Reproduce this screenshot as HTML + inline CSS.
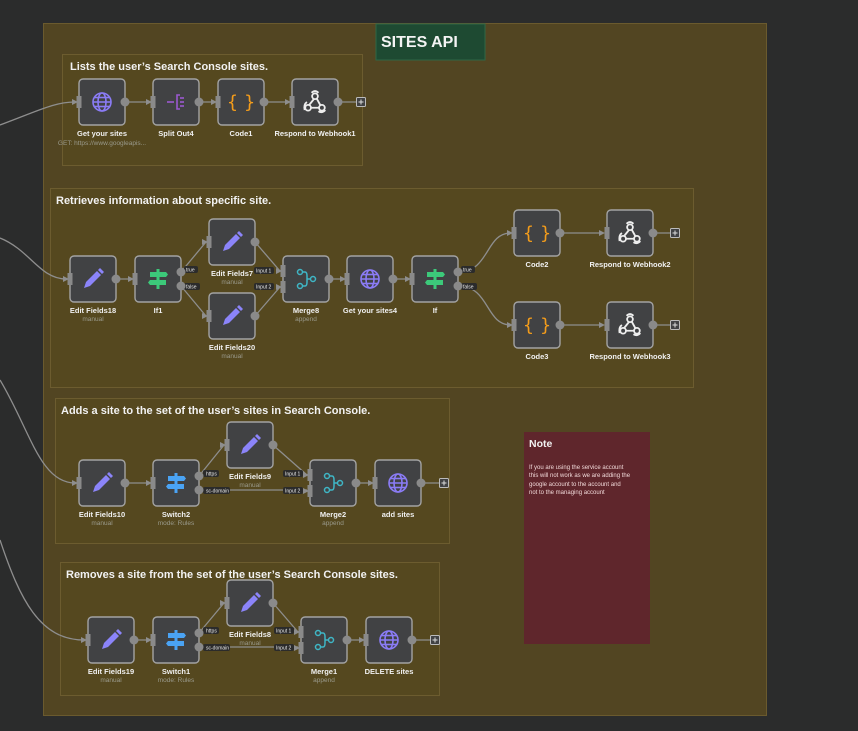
<!DOCTYPE html>
<html><head><meta charset="utf-8"><style>
html,body{margin:0;padding:0;background:#2b2c2c;width:858px;height:731px;overflow:hidden}
svg{display:block;font-family:"Liberation Sans",sans-serif}
.t{font-weight:bold;font-size:7.5px;fill:#f0f0f0;text-anchor:middle}
.s{font-size:6.5px;fill:#9a9a8c;text-anchor:middle}
.g{font-size:11px;fill:#f2f2f2;font-weight:bold}
.c{stroke:#8e8e8e;stroke-width:1.3;fill:none}
.pl{font-size:5px;fill:#e8e8e8}
</style></head><body>
<svg width="858" height="731" viewBox="0 0 858 731">
<defs>
<g id="node"><rect x="0" y="0" width="46" height="46" rx="4" fill="#414244" stroke="#a3a3a3" stroke-width="1.4"/></g>
<g id="in"><rect x="-2.5" y="-6" width="5" height="12" fill="#8a8a8a"/></g>
<g id="ah"><path d="M-6,-3 L0,0 L-6,3 Z" fill="#8e8e8e"/></g>
<g id="globe" fill="none" stroke="#8b7cf6" stroke-width="1.6"><circle r="9"/><ellipse rx="4" ry="9"/><line x1="-9" y1="0" x2="9" y2="0"/><line x1="-8" y1="-4.5" x2="8" y2="-4.5"/><line x1="-8" y1="4.5" x2="8" y2="4.5"/></g>
<g id="pencil"><path d="M-9,9 L-7,3 L4,-8 L8,-4 L-3,7 Z M5,-9 L7,-11 L11,-7 L9,-5 Z" fill="#8b84fa"/></g>
<g id="sign" fill="#3cc97a"><rect x="-1.5" y="-10" width="3" height="20"/><path d="M-8,-7 H8 L10,-4.5 L8,-2 H-8 Z"/><path d="M8,1 H-8 L-10,3.5 L-8,6 H8 Z"/></g>
<g id="signb" fill="#4aa3f5"><rect x="-1.5" y="-10" width="3" height="20"/><path d="M-8,-7 H8 L10,-4.5 L8,-2 H-8 Z"/><path d="M8,1 H-8 L-10,3.5 L-8,6 H8 Z"/></g>
<g id="merge" fill="none" stroke="#3fb6c6" stroke-width="1.5"><circle cx="-6" cy="-7" r="2.5"/><circle cx="-6" cy="7" r="2.5"/><circle cx="7" cy="0" r="2.5"/><path d="M-3.5,-7 H-1 Q1,-7 1,-3 V0 H4.5 M1,0 V3 Q1,7 -1,7 H-3.5"/></g>
<g id="split" fill="none" stroke="#9b59d0" stroke-width="1.6"><line x1="-9" y1="0" x2="-2" y2="0"/><path d="M4,-7 H1 V7 H4"/><line x1="4" y1="-4" x2="8" y2="-4"/><line x1="4" y1="0" x2="8" y2="0"/><line x1="4" y1="4" x2="8" y2="4"/></g>
<g id="hook" fill="none" stroke="#eeeeee" stroke-width="1.6" transform="scale(1.15)"><circle cx="0" cy="-5" r="2.5"/><circle cx="-6" cy="5" r="2.5"/><circle cx="6" cy="5" r="2.5"/><path d="M-1,-2.5 L-5,2.5 M-3.5,5 H3.5 M1.5,-3 L4.5,2.5 M-3,-8 Q0,-11 3,-8 M-9,7 Q-10,2 -7,0 M9,7 Q6,10 3,8"/></g>
<g id="code"><text x="0" y="6" font-size="18" fill="#f39c1b" text-anchor="middle" font-family="DejaVu Sans,sans-serif">{ }</text></g>
<g id="plus"><rect x="-4.5" y="-4.5" width="9" height="9" rx="1" fill="#414244" stroke="#bbbbbb" stroke-width="1"/><path d="M-2.5,0 H2.5 M0,-2.5 V2.5" stroke="#dddddd" stroke-width="1"/></g>
</defs>

<rect x="43.5" y="23.5" width="723" height="692" fill="#524522" stroke="#6a5a2e"/>
<rect x="376" y="24" width="109" height="36" fill="#1e4a32" stroke="#2d6645"/>
<text x="381" y="47" font-size="16" font-weight="bold" fill="#f4f4f4">SITES API</text>

<rect x="62.5" y="54.5" width="300" height="111" fill="#55481f" stroke="#6c5c2f"/>
<text x="70" y="70" class="g">Lists the user’s Search Console sites.</text>
<rect x="50.5" y="188.5" width="643" height="199" fill="#55481f" stroke="#6c5c2f"/>
<text x="56" y="204" class="g">Retrieves information about specific site.</text>
<rect x="55.5" y="398.5" width="394" height="145" fill="#55481f" stroke="#6c5c2f"/>
<text x="61" y="414" class="g">Adds a site to the set of the user’s sites in Search Console.</text>
<rect x="60.5" y="562.5" width="379" height="133" fill="#55481f" stroke="#6c5c2f"/>
<text x="66" y="578" class="g">Removes a site from the set of the user’s Search Console sites.</text>

<rect x="524" y="432" width="126" height="212" fill="#5f262c"/>
<text x="529" y="447" font-size="10.5" font-weight="bold" fill="#f2f2f2">Note</text>
<g font-size="6" fill="#f0d8d8"><text x="529" y="469">If you are using the service account</text><text x="529" y="477">this will not work as we are adding the</text><text x="529" y="486">google account to the account and</text><text x="529" y="494">not to the managing account</text></g>

<path class="c" d="M0,125 C40,110 55,102 75,102"/><use href="#ah" x="78" y="102"/>
<path class="c" d="M0,238 C30,250 40,279 66,279"/><use href="#ah" x="69" y="279"/>
<path class="c" d="M0,380 C30,430 40,483 75,483"/><use href="#ah" x="78" y="483"/>
<path class="c" d="M0,540 C20,600 40,640 84,640"/><use href="#ah" x="87" y="640"/>

<path class="c" d="M125,102 H150 M199,102 H215 M263,102 H289 M338,102 H357"/>
<use href="#ah" x="152" y="102"/><use href="#ah" x="217" y="102"/><use href="#ah" x="291" y="102"/>
<path class="c" d="M116,279 H132 M181,272 L206,242 M181,286 L206,316 M255,242 L280,271 M255,316 L280,287 M329,279 H344 M393,279 H409 M458,272 C490,272 485,233 511,233 M458,286 C490,286 485,325 511,325 M560,233 H603 M560,325 H603 M652,233 H671 M652,325 H671"/>
<use href="#ah" x="134" y="279"/><use href="#ah" x="208" y="242"/><use href="#ah" x="208" y="316"/><use href="#ah" x="282" y="271"/><use href="#ah" x="282" y="287"/><use href="#ah" x="346" y="279"/><use href="#ah" x="411" y="279"/><use href="#ah" x="513" y="233"/><use href="#ah" x="513" y="325"/><use href="#ah" x="605" y="233"/><use href="#ah" x="605" y="325"/>
<path class="c" d="M125,483 H150 M199,476 L224,445 M199,490 H307 M273,445 L307,475 M356,483 H372 M421,483 H440"/>
<use href="#ah" x="152" y="483"/><use href="#ah" x="226" y="445"/><use href="#ah" x="309" y="475"/><use href="#ah" x="309" y="491"/><use href="#ah" x="374" y="483"/>
<path class="c" d="M134,640 H150 M199,633 L224,603 M199,647 H298 M273,603 L298,632 M347,640 H363 M412,640 H431"/>
<use href="#ah" x="152" y="640"/><use href="#ah" x="226" y="603"/><use href="#ah" x="300" y="632"/><use href="#ah" x="300" y="648"/><use href="#ah" x="365" y="640"/>

<g class="pl">
<rect x="184" y="266" width="14" height="7" rx="2" fill="#2b2b2b"/><text x="186" y="271.5">true</text>
<rect x="184" y="283" width="16" height="7" rx="2" fill="#2b2b2b"/><text x="186" y="288.5">false</text>
<rect x="254" y="267" width="20" height="7" rx="2" fill="#2b2b2b"/><text x="256" y="272.5">Input 1</text>
<rect x="254" y="283" width="20" height="7" rx="2" fill="#2b2b2b"/><text x="256" y="288.5">Input 2</text>
<rect x="461" y="266" width="14" height="7" rx="2" fill="#2b2b2b"/><text x="463" y="271.5">true</text>
<rect x="461" y="283" width="16" height="7" rx="2" fill="#2b2b2b"/><text x="463" y="288.5">false</text>
<rect x="203" y="470" width="16" height="7" rx="2" fill="#2b2b2b"/><text x="206" y="475.5">https</text>
<rect x="203" y="487" width="27" height="7" rx="2" fill="#2b2b2b"/><text x="206" y="492.5">sc-domain</text>
<rect x="283" y="470" width="20" height="7" rx="2" fill="#2b2b2b"/><text x="285" y="475.5">Input 1</text>
<rect x="283" y="487" width="20" height="7" rx="2" fill="#2b2b2b"/><text x="285" y="492.5">Input 2</text>
<rect x="203" y="627" width="16" height="7" rx="2" fill="#2b2b2b"/><text x="206" y="632.5">https</text>
<rect x="203" y="644" width="27" height="7" rx="2" fill="#2b2b2b"/><text x="206" y="649.5">sc-domain</text>
<rect x="274" y="627" width="20" height="7" rx="2" fill="#2b2b2b"/><text x="276" y="632.5">Input 1</text>
<rect x="274" y="644" width="20" height="7" rx="2" fill="#2b2b2b"/><text x="276" y="649.5">Input 2</text>
</g>

<g transform="translate(79,79)"><use href="#node"/><use href="#in" y="23"/><circle cx="46" cy="23" r="4.5" fill="#8a8a8a"/><use href="#globe" x="23" y="23"/></g>
<g transform="translate(153,79)"><use href="#node"/><use href="#in" y="23"/><circle cx="46" cy="23" r="4.5" fill="#8a8a8a"/><use href="#split" x="23" y="23"/></g>
<g transform="translate(218,79)"><use href="#node"/><use href="#in" y="23"/><circle cx="46" cy="23" r="4.5" fill="#8a8a8a"/><use href="#code" x="23" y="23"/></g>
<g transform="translate(292,79)"><use href="#node"/><use href="#in" y="23"/><circle cx="46" cy="23" r="4.5" fill="#8a8a8a"/><use href="#hook" x="23" y="23"/></g>
<use href="#plus" x="361" y="102"/>
<text class="t" x="102" y="136">Get your sites</text><text class="s" x="102" y="145">GET: https://www.googleapis...</text>
<text class="t" x="176" y="136">Split Out4</text>
<text class="t" x="241" y="136">Code1</text>
<text class="t" x="315" y="136">Respond to Webhook1</text>

<g transform="translate(70,256)"><use href="#node"/><use href="#in" y="23"/><circle cx="46" cy="23" r="4.5" fill="#8a8a8a"/><use href="#pencil" x="23" y="23"/></g>
<g transform="translate(135,256)"><use href="#node"/><use href="#in" y="23"/><circle cx="46" cy="16" r="4.5" fill="#8a8a8a"/><circle cx="46" cy="30" r="4.5" fill="#8a8a8a"/><use href="#sign" x="23" y="23"/></g>
<g transform="translate(209,219)"><use href="#node"/><use href="#in" y="23"/><circle cx="46" cy="23" r="4.5" fill="#8a8a8a"/><use href="#pencil" x="23" y="23"/></g>
<g transform="translate(209,293)"><use href="#node"/><use href="#in" y="23"/><circle cx="46" cy="23" r="4.5" fill="#8a8a8a"/><use href="#pencil" x="23" y="23"/></g>
<g transform="translate(283,256)"><use href="#node"/><use href="#in" y="15"/><use href="#in" y="31"/><circle cx="46" cy="23" r="4.5" fill="#8a8a8a"/><use href="#merge" x="23" y="23"/></g>
<g transform="translate(347,256)"><use href="#node"/><use href="#in" y="23"/><circle cx="46" cy="23" r="4.5" fill="#8a8a8a"/><use href="#globe" x="23" y="23"/></g>
<g transform="translate(412,256)"><use href="#node"/><use href="#in" y="23"/><circle cx="46" cy="16" r="4.5" fill="#8a8a8a"/><circle cx="46" cy="30" r="4.5" fill="#8a8a8a"/><use href="#sign" x="23" y="23"/></g>
<g transform="translate(514,210)"><use href="#node"/><use href="#in" y="23"/><circle cx="46" cy="23" r="4.5" fill="#8a8a8a"/><use href="#code" x="23" y="23"/></g>
<g transform="translate(607,210)"><use href="#node"/><use href="#in" y="23"/><circle cx="46" cy="23" r="4.5" fill="#8a8a8a"/><use href="#hook" x="23" y="23"/></g>
<g transform="translate(514,302)"><use href="#node"/><use href="#in" y="23"/><circle cx="46" cy="23" r="4.5" fill="#8a8a8a"/><use href="#code" x="23" y="23"/></g>
<g transform="translate(607,302)"><use href="#node"/><use href="#in" y="23"/><circle cx="46" cy="23" r="4.5" fill="#8a8a8a"/><use href="#hook" x="23" y="23"/></g>
<use href="#plus" x="675" y="233"/><use href="#plus" x="675" y="325"/>
<text class="t" x="93" y="313">Edit Fields18</text><text class="s" x="93" y="321">manual</text>
<text class="t" x="158" y="313">If1</text>
<text class="t" x="232" y="276">Edit Fields7</text><text class="s" x="232" y="284">manual</text>
<text class="t" x="232" y="350">Edit Fields20</text><text class="s" x="232" y="358">manual</text>
<text class="t" x="306" y="313">Merge8</text><text class="s" x="306" y="321">append</text>
<text class="t" x="370" y="313">Get your sites4</text>
<text class="t" x="435" y="313">If</text>
<text class="t" x="537" y="267">Code2</text>
<text class="t" x="630" y="267">Respond to Webhook2</text>
<text class="t" x="537" y="359">Code3</text>
<text class="t" x="630" y="359">Respond to Webhook3</text>

<g transform="translate(79,460)"><use href="#node"/><use href="#in" y="23"/><circle cx="46" cy="23" r="4.5" fill="#8a8a8a"/><use href="#pencil" x="23" y="23"/></g>
<g transform="translate(153,460)"><use href="#node"/><use href="#in" y="23"/><circle cx="46" cy="16" r="4.5" fill="#8a8a8a"/><circle cx="46" cy="30" r="4.5" fill="#8a8a8a"/><use href="#signb" x="23" y="23"/></g>
<g transform="translate(227,422)"><use href="#node"/><use href="#in" y="23"/><circle cx="46" cy="23" r="4.5" fill="#8a8a8a"/><use href="#pencil" x="23" y="23"/></g>
<g transform="translate(310,460)"><use href="#node"/><use href="#in" y="15"/><use href="#in" y="31"/><circle cx="46" cy="23" r="4.5" fill="#8a8a8a"/><use href="#merge" x="23" y="23"/></g>
<g transform="translate(375,460)"><use href="#node"/><use href="#in" y="23"/><circle cx="46" cy="23" r="4.5" fill="#8a8a8a"/><use href="#globe" x="23" y="23"/></g>
<use href="#plus" x="444" y="483"/>
<text class="t" x="102" y="517">Edit Fields10</text><text class="s" x="102" y="525">manual</text>
<text class="t" x="176" y="517">Switch2</text><text class="s" x="176" y="525">mode: Rules</text>
<text class="t" x="250" y="479">Edit Fields9</text><text class="s" x="250" y="487">manual</text>
<text class="t" x="333" y="517">Merge2</text><text class="s" x="333" y="525">append</text>
<text class="t" x="398" y="517">add sites</text>

<g transform="translate(88,617)"><use href="#node"/><use href="#in" y="23"/><circle cx="46" cy="23" r="4.5" fill="#8a8a8a"/><use href="#pencil" x="23" y="23"/></g>
<g transform="translate(153,617)"><use href="#node"/><use href="#in" y="23"/><circle cx="46" cy="16" r="4.5" fill="#8a8a8a"/><circle cx="46" cy="30" r="4.5" fill="#8a8a8a"/><use href="#signb" x="23" y="23"/></g>
<g transform="translate(227,580)"><use href="#node"/><use href="#in" y="23"/><circle cx="46" cy="23" r="4.5" fill="#8a8a8a"/><use href="#pencil" x="23" y="23"/></g>
<g transform="translate(301,617)"><use href="#node"/><use href="#in" y="15"/><use href="#in" y="31"/><circle cx="46" cy="23" r="4.5" fill="#8a8a8a"/><use href="#merge" x="23" y="23"/></g>
<g transform="translate(366,617)"><use href="#node"/><use href="#in" y="23"/><circle cx="46" cy="23" r="4.5" fill="#8a8a8a"/><use href="#globe" x="23" y="23"/></g>
<use href="#plus" x="435" y="640"/>
<text class="t" x="111" y="674">Edit Fields19</text><text class="s" x="111" y="682">manual</text>
<text class="t" x="176" y="674">Switch1</text><text class="s" x="176" y="682">mode: Rules</text>
<text class="t" x="250" y="637">Edit Fields8</text><text class="s" x="250" y="645">manual</text>
<text class="t" x="324" y="674">Merge1</text><text class="s" x="324" y="682">append</text>
<text class="t" x="389" y="674">DELETE sites</text>
</svg>
</body></html>
